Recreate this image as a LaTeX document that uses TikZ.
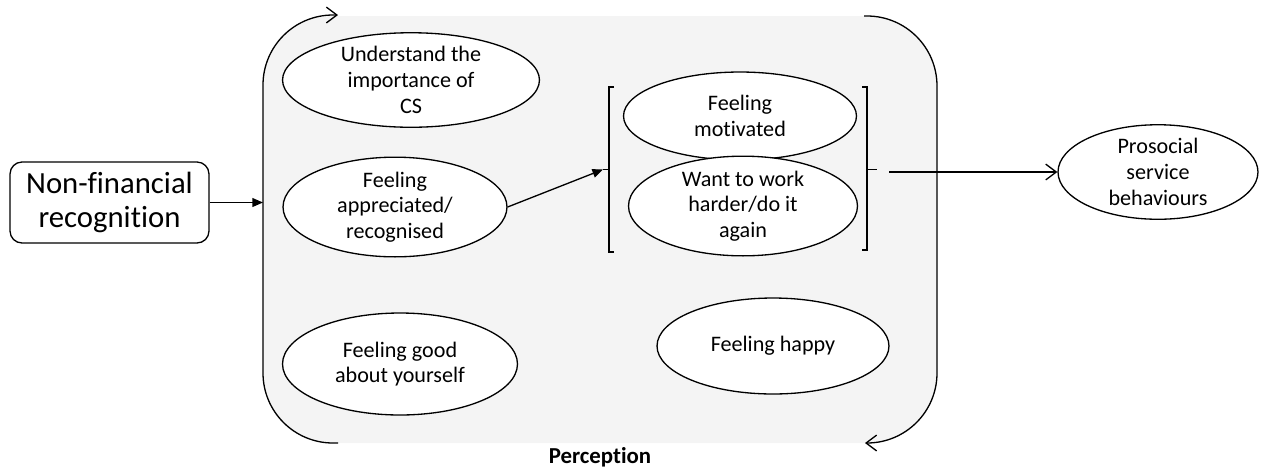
\documentclass[tikz,border=0pt]{standalone}
\usepackage{fontspec}
\setmainfont{Carlito}[Ligatures=NoCommon]
\usetikzlibrary{shapes.geometric,arrows.meta}
\definecolor{boxgray}{RGB}{244,244,244}
\begin{document}
\begin{tikzpicture}[x=0.02cm,y=-0.02cm,
  line width=0.75pt,
  oval/.style={ellipse,draw=black,fill=white,inner sep=0pt,align=center,
    font=\fontsize{12.6}{14.6}\selectfont},
  loopline/.style={line width=0.75pt,-{Straight Barb[length=6pt,width=9pt]},rounded corners=70*0.02cm},
  filledtip/.style={-{Triangle[length=6pt,width=5pt]}},
  opentip/.style={-{Straight Barb[length=6pt,width=9pt]}},
  bracketline/.style={line width=0.75pt}
]
\useasboundingbox (0,0) rectangle (1268,468);
% perception area
\fill[boxgray,rounded corners=70*0.02cm] (263,16) rectangle (937,443);
\draw[loopline] (338,443) -- (263,443) -- (263,15) -- (338,15);
\draw[loopline] (864,16) -- (937,16) -- (937,443) -- (865,443);
\node[font=\bfseries\fontsize{13}{15}\selectfont] (perc) at (600,457) {Perception};

% source box
\node[draw,rounded corners=0.24cm,minimum width=3.98cm,minimum height=1.62cm,
  align=center,font=\fontsize{17.5}{19.5}\selectfont,inner sep=0pt] (nf) at (109.5,202.5)
  {Non-financial\\recognition};
\coordinate (boxin) at (263,202.5);
\draw[filledtip] (nf.east) -- (boxin);

% ellipses
\node[oval,minimum width=5.14cm,minimum height=1.76cm] (e1) at (411,80) {Understand the\\importance of\\CS};
\node[oval,minimum width=4.48cm,minimum height=1.70cm] (e2) at (395,207) {Feeling\\appreciated/\\recognised};
\node[oval,minimum width=4.70cm,minimum height=2.04cm] (e3) at (400,364) {Feeling good\\about yourself};
\node[oval,minimum width=4.66cm,minimum height=1.76cm] (e4) at (740,116) {Feeling\\motivated};
\node[oval,minimum width=4.58cm,minimum height=1.88cm] (e5) at (743,206) {Want to work\\harder/do it\\again};
\node[oval,minimum width=4.64cm,minimum height=1.92cm] (e6) at (773,346) {Feeling happy};
\node[oval,minimum width=4.00cm,minimum height=1.80cm] (e7) at (1158,172) {Prosocial\\service\\behaviours};

% brackets
\draw[bracketline] (614,87) -- (609,87) -- (609,252) -- (614,252);
\coordinate (lb) at (603,169.5);
\draw[bracketline] (lb) -- (609,169.5);
\draw[bracketline] (862,87) -- (867,87) -- (867,250) -- (862,250);
\coordinate (rbtick) at (877,169.5);
\draw[bracketline] (867,169.5) -- (rbtick);
\coordinate (rb) at (889,172);

% connectors
\draw[filledtip] (e2.east) -- (lb);
\draw[opentip] (rb) -- (e7.west);
\end{tikzpicture}
\end{document}
